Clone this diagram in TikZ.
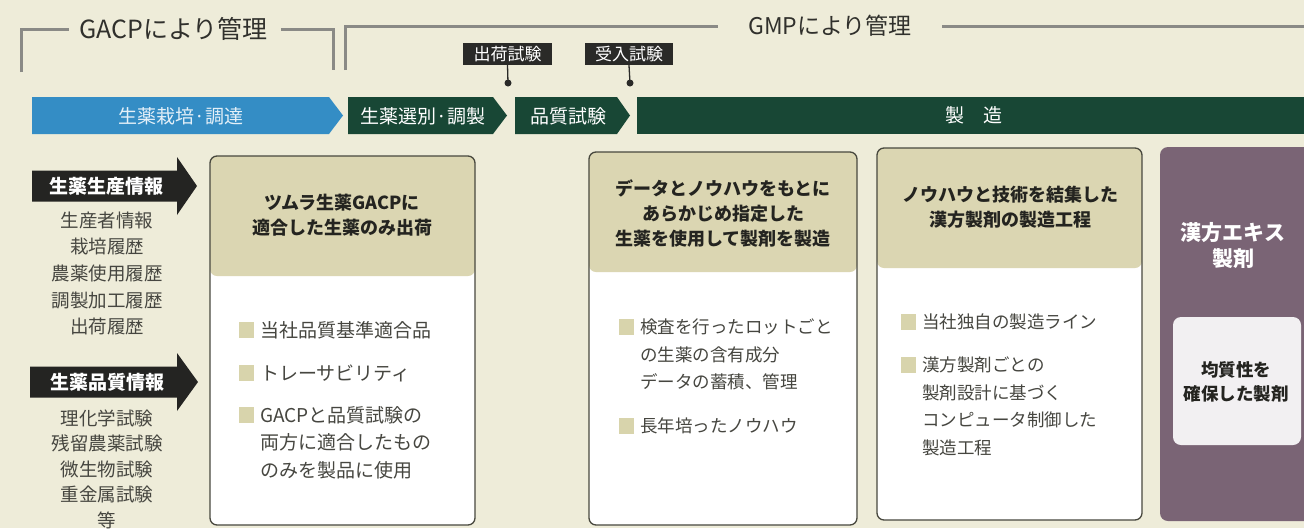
\documentclass[tikz,border=0pt]{standalone}
\usepackage{fontspec}
\setmainfont{Noto Sans CJK JP}
\newcommand\myfs[2]{\fontsize{#1}{#2}\selectfont}
\definecolor{bgC}{RGB}{238,236,217}
\definecolor{blueC}{RGB}{52,141,197}
\definecolor{greenC}{RGB}{24,71,53}
\definecolor{labC}{RGB}{42,42,40}
\definecolor{arrC}{RGB}{36,36,34}
\definecolor{tanC}{RGB}{219,214,178}
\definecolor{sqC}{RGB}{216,212,172}
\definecolor{boxC}{RGB}{72,72,62}
\definecolor{purpC}{RGB}{122,100,117}
\definecolor{innerC}{RGB}{242,240,242}
\definecolor{lineC}{RGB}{138,138,134}
\definecolor{hdrC}{RGB}{36,36,32}
\definecolor{bodyC}{RGB}{70,70,64}
\definecolor{ttlC}{RGB}{48,48,44}
\begin{document}
\begin{tikzpicture}[x=1pt,y=-1pt,
  brk/.style={draw=lineC,line width=3},
  ttl/.style={font=\myfs{23}{26},text=ttlC,inner sep=0},
  lab/.style={fill=labC,text=white,font=\myfs{17}{19},minimum height=22,inner sep=0},
  dotn/.style={circle,fill=labC,minimum size=7,inner sep=0},
  stem/.style={draw=labC,line width=1.3},
  bartxt/.style={text=white,font=\myfs{19}{22},inner sep=0},
  arrtxt/.style={text=white,font=\bfseries\myfs{19}{22},inner sep=0},
  listtxt/.style={text=bodyC,font=\myfs{18.5}{26.7},align=center,inner sep=0},
  box/.style={draw=boxC,line width=1.3,rounded corners=7,fill=white,
    path picture={\fill[tanC] (path picture bounding box.north west) rectangle ([yshift=-120pt]path picture bounding box.north east);}},
  hdrtxt/.style={text=hdrC,font=\bfseries\myfs{18}{25},align=center,inner sep=0},
  bodytxt/.style={text=bodyC,font=\myfs{17.5}{27.5},align=left,inner sep=0,anchor=west},
  bulsq/.style={fill=sqC,minimum width=15,minimum height=16,inner sep=0}
]
\useasboundingbox (0,0) rectangle (1304,528);
\fill[bgC] (0,0) rectangle (1304,528);

% --- top brackets
\node[ttl,font=\myfs{25}{28}] (g1) at (173.5,29) {GACPにより管理};
\draw[brk] (21,72) |- ([xshift=-10pt]g1.west);
\draw[brk] ([xshift=13pt]g1.east) -| (333,70);
\node[ttl] (g2) at (830,26) {GMPにより管理};
\draw[brk] (345,70) |- ([xshift=-30pt]g2.west);
\draw[brk] ([xshift=30pt]g2.east) -- (1304,26);

% --- test labels
\node[lab,minimum width=89] (q1) at (507.5,54) {出荷試験};
\node[lab,minimum width=88] (q2) at (629,54) {受入試験};
\node[dotn] (d1) at (508,83) {};
\node[dotn] (d2) at (630,83) {};
\draw[stem] (q1.south) -- (d1.center);
\draw[stem] (q2.south) -- (d2.center);

% --- process bars
\fill[blueC] (32,97) -- (329,97) -- (343,115.5) -- (329,134) -- (32,134) -- cycle;
\fill[greenC] (348,97) -- (493,97) -- (507,115.5) -- (493,134) -- (348,134) -- cycle;
\fill[greenC] (515,97) -- (617,97) -- (630,115.5) -- (617,134) -- (515,134) -- cycle;
\fill[greenC] (637,97) -- (1304,97) -- (1304,134) -- (637,134) -- cycle;
\node[bartxt,text={rgb,255:red,228;green,240;blue,248}] (s0) at (181,116) {生薬栽培·調達};
\node[bartxt] (s1) at (423,116) {生薬選別·調製};
\node[bartxt] (s2) at (568,116) {品質試験};
\node[bartxt] (s3) at (974,115) {製\quad 造};

% --- left info arrows
\fill[arrC] (32,170.5) -- (177,170.5) -- (177,157) -- (197,186) -- (177,215) -- (177,201.5) -- (32,201.5) -- cycle;
\node[arrtxt] (a1) at (106,186) {生薬生産情報};
\node[listtxt] (l1) at (107,273.5) {生産者情報\\栽培履歴\\農薬使用履歴\\調製加工履歴\\出荷履歴};
\fill[arrC] (30,366.5) -- (177,366.5) -- (177,353) -- (198,382) -- (177,411) -- (177,397.5) -- (30,397.5) -- cycle;
\node[arrtxt] (a2) at (107,382) {生薬品質情報};
\node[listtxt,font=\myfs{18.5}{25.5}] (l2) at (107,469) {理化学試験\\残留農薬試験\\微生物試験\\重金属試験\\等};

% --- box 1
\node[box,minimum width=265,minimum height=369] (b1) at (342.5,340.5) {};
\node[hdrtxt] (h1) at (342,215) {ツムラ生薬GACPに\\適合した生薬のみ出荷};
\node[bulsq] (p1a) at (246,330) {};
\node[bodytxt,font=\myfs{19}{28}] (t1a) at (260,330) {当社品質基準適合品};
\node[bulsq] (p1b) at (246,373) {};
\node[bodytxt,font=\myfs{19}{28}] (t1b) at (260,373) {トレーサビリティ};
\node[bulsq] (p1c) at (246,415) {};
\node[bodytxt,font=\myfs{19}{27.5}] (t1c) at (260,442.5) {GACPと品質試験の\\両方に適合したもの\\のみを製品に使用};

% --- box 2
\node[box,minimum width=268,minimum height=373] (b2) at (723,338.5) {};
\node[hdrtxt] (h2) at (723,213.5) {データとノウハウをもとに\\あらかじめ指定した\\生薬を使用して製剤を製造};
\node[bulsq] (p2a) at (626,327) {};
\node[bodytxt] (t2a) at (640,354.5) {検査を行ったロットごと\\の生薬の含有成分\\データの蓄積、管理};
\node[bulsq] (p2b) at (626,426) {};
\node[bodytxt] (t2b) at (640,426) {長年培ったノウハウ};

% --- box 3
\node[box,minimum width=265,minimum height=372] (b3) at (1009.5,334) {};
\node[hdrtxt] (h3) at (1010,207.5) {ノウハウと技術を結集した\\漢方製剤の製造工程};
\node[bulsq] (p3a) at (908,322) {};
\node[bodytxt] (t3a) at (922,322) {当社独自の製造ライン};
\node[bulsq] (p3b) at (908,365) {};
\node[bodytxt] (t3b) at (922,406.5) {漢方製剤ごとの\\製剤設計に基づく\\コンピュータ制御した\\製造工程};

% --- purple product box
\node[fill=purpC,rounded corners=8,minimum width=160,minimum height=374,inner sep=0] (pb) at (1240,334) {};
\node[text=white,font=\bfseries\myfs{21}{26},align=center,inner sep=0] (pt) at (1233,245) {漢方エキス\\製剤};
\node[fill=innerC,rounded corners=8,minimum width=128,minimum height=128,inner sep=0] (pi) at (1237,381) {};
\node[hdrtxt,font=\bfseries\myfs{17.5}{24}] (pit) at (1236,381.5) {均質性を\\確保した製剤};
\end{tikzpicture}
\end{document}
